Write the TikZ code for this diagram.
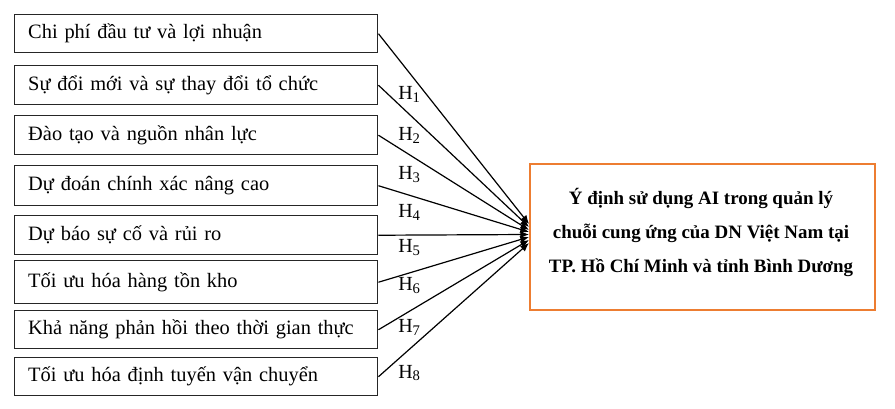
\documentclass[tikz,border=0pt]{standalone}
\usepackage{fontspec}
\setmainfont{Liberation Serif}
\usetikzlibrary{arrows.meta}
\definecolor{orangeline}{HTML}{ED7D31}
\newcommand{\hyp}[1]{H\raisebox{-0.3ex}{\fontsize{11}{11}\selectfont #1}}
\begin{document}
\begin{tikzpicture}[x=0.75pt,y=-0.75pt,
  leftbox/.style={draw=black!85, line width=1.1pt, anchor=north west, minimum width=272.25pt,
    text width=252pt, inner xsep=10pt, inner ysep=0pt, align=left,
    font=\fontsize{15.3}{18}\selectfont},
  goalbox/.style={draw=orangeline, line width=1.5pt, anchor=north west, minimum width=258.75pt,
    minimum height=109.5pt, inner sep=0pt},
  goaltext/.style={align=center, font=\bfseries\fontsize{14.2}{25.5}\selectfont, inner sep=0pt},
  hlab/.style={anchor=base west, inner sep=0pt, font=\fontsize{15}{17}\selectfont},
  link/.style={line width=0.9pt, -{Latex[length=6.5pt,width=5.5pt]}}]
\useasboundingbox (0,0) rectangle (895,409);
\node[leftbox, minimum height=28.5pt] (b1) at (14,14) {Chi phí đầu tư và lợi nhuận};
\node[leftbox, minimum height=29.25pt] (b2) at (14,65) {Sự đổi mới và sự thay đổi tổ chức};
\node[leftbox, minimum height=29.25pt] (b3) at (14,115) {Đào tạo và nguồn nhân lực};
\node[leftbox, minimum height=30pt] (b4) at (14,165) {Dự đoán chính xác nâng cao};
\node[leftbox, minimum height=29.25pt] (b5) at (14,215) {Dự báo sự cố và rủi ro};
\node[leftbox, minimum height=32.25pt] (b6) at (14,260) {Tối ưu hóa hàng tồn kho};
\node[leftbox, minimum height=28.5pt] (b7) at (14,310) {Khả năng phản hồi theo thời gian thực};
\node[leftbox, minimum height=28.5pt] (b8) at (14,357) {Tối ưu hóa định tuyến vận chuyển};
\node[goalbox] (g) at (529,163) {};
\node[goaltext] (gt) at (701,232) {Ý định sử dụng AI trong quản lý\\chuỗi cung ứng của DN Việt Nam tại\\TP. Hồ Chí Minh và tỉnh Bình Dương};
\coordinate (e1) at (529,224);
\coordinate (e2) at (529,227);
\coordinate (e3) at (529,230);
\coordinate (e4) at (529,232);
\coordinate (e5) at (529,234.5);
\coordinate (e6) at (529,237);
\coordinate (e7) at (529,240);
\coordinate (e8) at (529,243);
\foreach \i in {1,...,8} {\draw[link] (b\i.east) -- (e\i);}
\node[hlab] (h1) at (398,100) {\hyp{1}};
\node[hlab] (h2) at (398,141) {\hyp{2}};
\node[hlab] (h3) at (398,180) {\hyp{3}};
\node[hlab] (h4) at (398,218) {\hyp{4}};
\node[hlab] (h5) at (398,253) {\hyp{5}};
\node[hlab] (h6) at (398,291) {\hyp{6}};
\node[hlab] (h7) at (398,333) {\hyp{7}};
\node[hlab] (h8) at (398,378) {\hyp{8}};
\end{tikzpicture}
\end{document}
